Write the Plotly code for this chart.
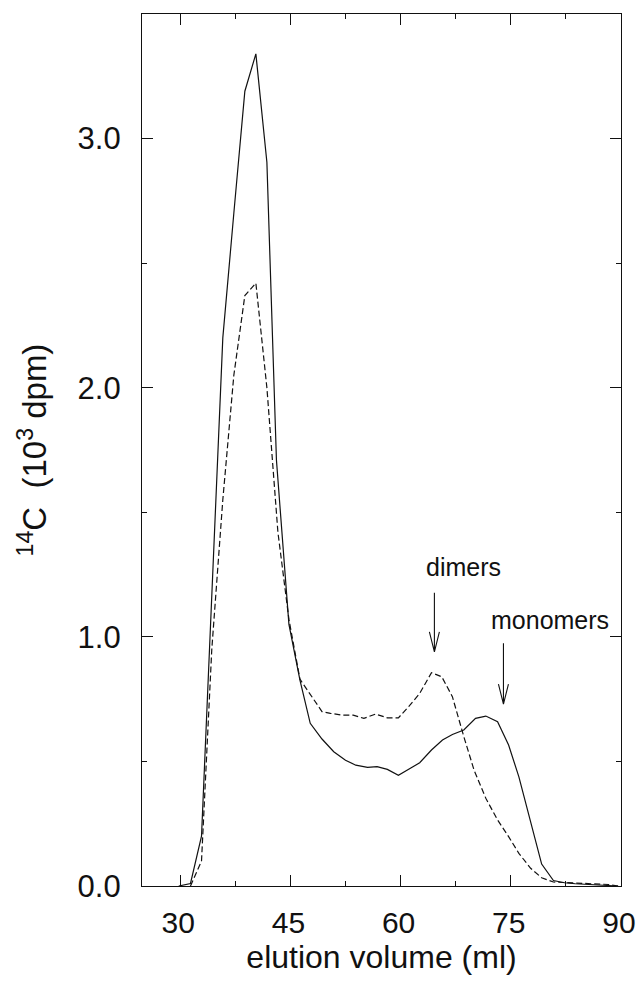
import plotly.graph_objects as go

# elution volume (ml) and 14C (10^3 dpm)
solid_x = [29.8, 31.4, 32.9, 34.3, 35.8, 37.3, 38.8, 40.3, 41.8, 43.1, 44.8, 46.3, 47.7,
           49.3, 50.9, 52.5, 53.9, 55.5, 56.8, 58.2, 59.7, 61.1, 62.6, 64.2, 65.7, 67.05,
           68.6, 70.2, 71.6, 73.2, 74.7, 76.1, 77.7, 79.2, 80.8, 82.3, 83.8, 85.3, 86.8,
           88.3, 89.6]
solid_y = [0.0, 0.01, 0.20, 1.20, 2.20, 2.70, 3.19, 3.34, 2.905, 1.71, 1.05, 0.826, 0.653,
           0.590, 0.539, 0.505, 0.485, 0.476, 0.479, 0.468, 0.444, 0.469, 0.495, 0.546,
           0.586, 0.608, 0.626, 0.673, 0.682, 0.659, 0.566, 0.438, 0.251, 0.088, 0.022,
           0.013, 0.009, 0.006, 0.004, 0.002, 0.0]

dashed_x = [31.4, 32.9, 34.3, 35.8, 37.3, 38.8, 40.3, 41.8, 43.3, 44.8, 46.3, 47.8, 49.3,
            50.45, 52.05, 53.55, 55.0, 56.6, 58.2, 59.7, 61.1, 62.6, 64.2, 65.6, 67.05,
            68.6, 70.0, 71.6, 73.2, 74.7, 76.1, 77.7, 79.2, 80.8, 82.3, 83.8, 85.3, 86.8,
            88.3, 89.6]
dashed_y = [0.0, 0.10, 0.95, 1.55, 2.05, 2.37, 2.42, 2.00, 1.42, 1.07, 0.83, 0.765, 0.700,
            0.693, 0.686, 0.686, 0.673, 0.690, 0.675, 0.675, 0.720, 0.773, 0.856, 0.840,
            0.760, 0.600, 0.465, 0.352, 0.265, 0.198, 0.131, 0.071, 0.033, 0.016, 0.014,
            0.013, 0.011, 0.010, 0.006, 0.0]

x_ticks = [30, 45, 60, 75, 90]
y_ticks = [0.0, 1.0, 2.0, 3.0]
y_tick_text = ["0.0", "1.0", "2.0", "3.0"]

labels = ["dimers", "monomers"]
label_x = [68.6, 80.3]
label_y = [1.28, 1.067]
arrow_x = [64.6, 74.0]
arrow_y = [0.94, 0.73]

FONT = "Liberation Sans, Arial, Helvetica, sans-serif"
INK = "#111111"

fig = go.Figure()
fig.add_trace(go.Scatter(x=solid_x, y=solid_y, mode="lines",
                         line=dict(color=INK, width=1.2), showlegend=False))
fig.add_trace(go.Scatter(x=dashed_x, y=dashed_y, mode="lines",
                         line=dict(color=INK, width=1.2, dash="6px,3px"), showlegend=False))

for t, tx, ty in zip(labels, label_x, label_y):
    fig.add_annotation(x=tx, y=ty, text=t, showarrow=False,
                       font=dict(family=FONT, size=25, color=INK),
                       xanchor="center", yanchor="middle")

for ax_, ay_, L in zip(arrow_x, arrow_y, [59, 61]):
    fig.add_shape(type="path", xref="x", yref="y",
                  xsizemode="pixel", ysizemode="pixel",
                  xanchor=ax_, yanchor=ay_,
                  path=f"M0,{L} L0,0 M-5,20 L0,0 L5,20",
                  line=dict(color=INK, width=1.1))

axis_common = dict(
    showline=True, linecolor=INK, linewidth=1.3, mirror="ticks",
    ticks="inside", ticklen=11, tickwidth=1.1, tickcolor=INK,
    showgrid=False, zeroline=False, ticklabeloverflow="allow", automargin=False,
)

fig.update_xaxes(range=[24.8, 90], tickvals=x_ticks,
                 minor=dict(dtick=7.5, tick0=30, ticks="inside", ticklen=5,
                            tickwidth=1.1, tickcolor=INK, showgrid=False),
                 ticklabelstandoff=10, ticklabelshift=-2,
                 tickfont=dict(family=FONT, size=30, color=INK),
                 title=dict(text="elution volume (ml)",
                            font=dict(family=FONT, size=32, color=INK), standoff=6),
                 **axis_common)
fig.update_yaxes(range=[0, 3.5], tickvals=y_ticks, ticktext=y_tick_text,
                 minor=dict(dtick=0.5, tick0=0, ticks="inside", ticklen=5,
                            tickwidth=1.1, tickcolor=INK, showgrid=False),
                 ticklabelstandoff=14,
                 tickfont=dict(family=FONT, size=31, color=INK),
                 title=dict(text="<sup>14</sup>C  (10<sup>3</sup> dpm)",
                            font=dict(family=FONT, size=33, color=INK), standoff=20),
                 **axis_common)

fig.update_layout(width=637, height=981,
                  margin=dict(l=142, r=16, t=14, b=95),
                  paper_bgcolor="white", plot_bgcolor="white")

fig.write_html("out.html")
